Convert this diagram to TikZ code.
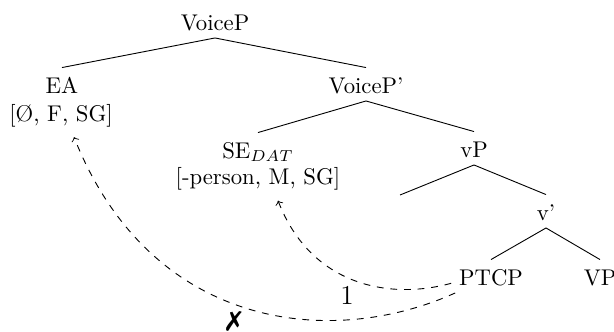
\documentclass[tikz,border=0pt]{standalone}
\usepackage{fontspec}
\usepackage{pifont}
\begin{document}
\begin{tikzpicture}[x=0.44pt,y=-0.44pt,
  tn/.style={inner sep=3.3pt, text height=7.7pt, text depth=0pt, anchor=base},
  feat/.style={inner sep=3.3pt, anchor=base},
  branch/.style={line width=0.4pt},
  mv/.style={->, dashed}]
\useasboundingbox (0,0) rectangle (614,331);
% tree nodes
\node[tn] (VoiceP) at (215,30) {VoiceP};
\node[tn] (EA) at (62,93) {EA};
\node[feat] (EAf) at (61,121.5) {[Ø, F, SG]};
\node[tn] (VoicePb) at (366,93) {VoiceP'};
\node[tn] (SE) at (258,158) {SE$_{DAT}$};
\node[feat] (SEf) at (258,184) {[-person, M, SG]};
\node[tn] (vP) at (474,157) {vP};
\coordinate (empty) at (400,195);
\node[tn] (vbar) at (546,220) {v'};
\node[tn] (PTCP) at (491,285) {PTCP};
\node[tn] (VP) at (600,285) {VP};
% branches
\draw[branch] (VoiceP.south) -- (EA.north);
\draw[branch] (VoiceP.south) -- (VoicePb.north);
\draw[branch] (VoicePb.south) -- (SE.north);
\draw[branch] (VoicePb.south) -- (vP.north);
\draw[branch] (vP.south) -- (empty);
\draw[branch] (vP.south) -- (vbar.north);
\draw[branch] (vbar.south) -- (PTCP.north);
\draw[branch] (vbar.south) -- (VP.north);
% movement / agreement arrows
\draw[mv] (PTCP.190) .. controls +(-62,17) and +(33,85) .. ([shift={(20,3)}]SEf.south);
\draw[mv] (PTCP.205) .. controls +(-124,56) and +(77,193) .. ([shift={(13,2)}]EAf.south);
\node[font=\large] (one) at (347,295) {1};
\node[font=\large, inner sep=0pt] (fail) at (234,321.5) {\ding{55}};
\end{tikzpicture}
\end{document}
